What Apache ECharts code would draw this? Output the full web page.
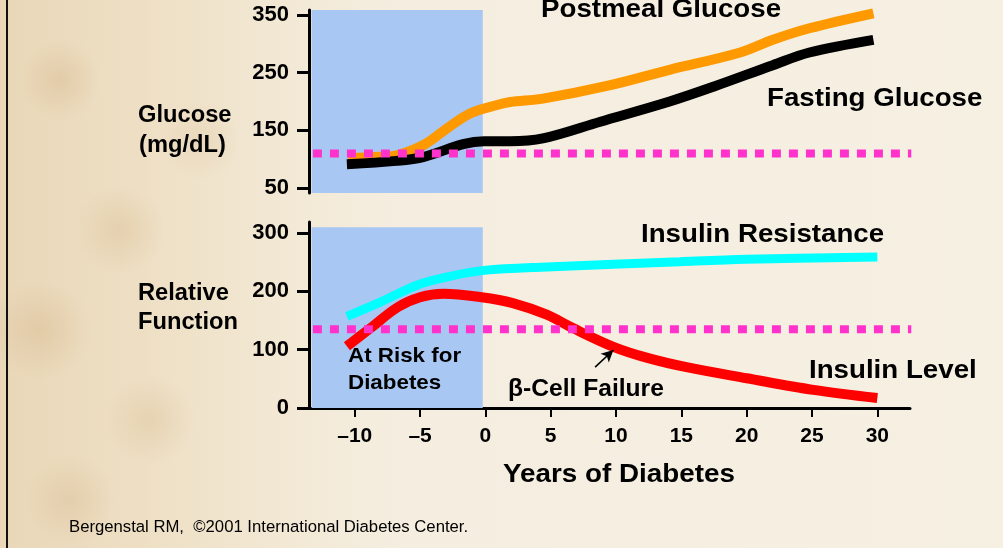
<!DOCTYPE html>
<html>
<head>
<meta charset="utf-8">
<title>Glucose and insulin over the course of diabetes</title>
<script src="https://cdn.jsdelivr.net/npm/echarts@6/dist/echarts.min.js"></script>
<style>
  html, body { margin:0; padding:0; }
  body {
    width:1003px; height:548px; overflow:hidden; position:relative;
    background:
      radial-gradient(circle at 60px 80px, rgba(205,170,120,.30) 0, rgba(205,170,120,0) 40px),
      radial-gradient(circle at 120px 230px, rgba(205,170,120,.26) 0, rgba(205,170,120,0) 45px),
      radial-gradient(circle at 40px 330px, rgba(205,170,120,.30) 0, rgba(205,170,120,0) 50px),
      radial-gradient(circle at 150px 420px, rgba(205,170,120,.24) 0, rgba(205,170,120,0) 45px),
      radial-gradient(circle at 70px 500px, rgba(205,170,120,.26) 0, rgba(205,170,120,0) 45px),
      radial-gradient(circle at 200px 140px, rgba(205,170,120,.18) 0, rgba(205,170,120,0) 40px),
      linear-gradient(to right, #e9d7b8 0%, #eedfc4 14%, #f2e8d4 28%, #f5eee0 40%, #f6f0e2 100%);
  }
  #edge { position:absolute; left:6px; top:0; width:2px; height:548px; background:#111; }
  #chart { position:absolute; left:0; top:0; width:1003px; height:548px; }
</style>
</head>
<body>
<div id="edge"></div>
<div id="chart"></div>
<script>
const xTicks = [-10, -5, 0, 5, 10, 15, 20, 25, 30];
const glucoseTicks = [50, 150, 250, 350];
const functionTicks = [0, 100, 200, 300];

const postmealX = [-10.5, -8, -6.7, -4.7, -2.9, -1.1, 0.9, 1.9, 4.4, 9.3, 14.1, 19.5, 22, 24.8, 29.7];
const postmealY = [102, 104, 107, 125, 154, 180, 194, 199, 205, 227, 255, 285, 307, 327, 353];

const fastingX = [-10.6, -6.8, -4.7, -1.7, -0.1, 1.9, 4.4, 8.8, 14.1, 17.5, 22, 24.8, 29.7];
const fastingY = [91, 97, 104, 126, 131, 131, 136, 165, 200, 226, 263, 285, 307];

const resistX = [-10.6, -8, -5.2, -2.9, -0.1, 4.7, 14.9, 20, 30];
const resistY = [157, 182, 211, 225, 236, 242, 251, 255, 259];

const insulinX = [-10.6, -8.8, -6.7, -5, -3.2, -0.3, 2.1, 4.7, 6.7, 9.8, 12.4, 15.4, 20, 25.1, 30];
const insulinY = [106, 137, 173, 190, 196, 190, 180, 160, 137, 105, 86, 70, 51, 31, 17];

const thresholdX = [-13.2, 32.6];
const glucoseThreshold = [110, 110];
const functionThreshold = [135, 135];

const riskZoneX = [-13.3, -0.2];
const riskZoneFunctionY = [0, 310];

const arrowFrom = [8.4, 70];
const arrowTo = [9.8, 99.5];

const xMin = -13.5, xMax = 32.5;
const glucoseMin = 41.3, glucoseMax = 358.7;
const functionMin = 0, functionMax = 319;

// --- estilo ---
const FONT = '"Liberation Sans", Arial, sans-serif';
const pair = (xs, ys) => xs.map((x, i) => [x, ys[i]]);
const fmtX = v => v < 0 ? '\u2013' + Math.abs(v) : String(v);

const chart = echarts.init(document.getElementById('chart'), null, { renderer: 'canvas' });

const yAxisBase = (idx, min, max, ticks) => ({
  type: 'value', gridIndex: idx, min, max, position: 'left',
  splitLine: { show: false },
  axisLine: { show: true, onZero: false, lineStyle: { color: '#000', width: 3 } },
  axisTick: { show: true, customValues: ticks, length: 12, lineStyle: { color: '#000', width: 3 } },
  axisLabel: { customValues: ticks, margin: 20, color: '#000', fontFamily: FONT, fontWeight: 'bold', fontSize: 22 }
});

const lineSeries = (name, xi, yi, data, color, width, z) => ({
  name, type: 'line', xAxisIndex: xi, yAxisIndex: yi, data,
  smooth: 0.35, showSymbol: false, symbol: 'none', z,
  lineStyle: { color, width, cap: 'butt' }
});

const dotted = (name, xi, yi, data) => ({
  name, type: 'line', xAxisIndex: xi, yAxisIndex: yi, data, clip: false,
  showSymbol: false, symbol: 'none', z: 5,
  lineStyle: { color: '#ff33cc', width: 8, type: [9, 8], cap: 'butt' }
});

// texto solto do slide (ligeiramente esticado na horizontal, como no original)
const txt = (text, x, y, size, sx, opts={}) => ({
  type: 'text', x, y, z: 10, scaleX: sx, scaleY: 1,
  style: Object.assign({
    text, fill: '#000', font: `bold ${size}px ${FONT}`,
    textAlign: 'left', textVerticalAlign: 'middle'
  }, opts)
});

chart.setOption({
  backgroundColor: 'transparent',
  animation: false,
  grid: [
    { left: 309, right: 93, top: 10, height: 183 },
    { left: 309, right: 93, top: 222, height: 186 }
  ],
  xAxis: [
    { type: 'value', gridIndex: 0, min: xMin, max: xMax, show: false },
    {
      type: 'value', gridIndex: 1, min: xMin, max: xMax, position: 'bottom',
      splitLine: { show: false },
      axisLine: { show: true, onZero: false, lineStyle: { color: '#000', width: 3 } },
      axisTick: { show: true, customValues: xTicks, length: 9, lineStyle: { color: '#000', width: 2 } },
      axisLabel: { customValues: xTicks, formatter: fmtX, margin: 18, color: '#000', fontFamily: FONT, fontWeight: 'bold', fontSize: 21 }
    }
  ],
  yAxis: [
    yAxisBase(0, glucoseMin, glucoseMax, glucoseTicks),
    yAxisBase(1, functionMin, functionMax, functionTicks)
  ],
  series: [
    {
      name: 'risk-top', type: 'line', xAxisIndex: 0, yAxisIndex: 0, data: [], z: 1,
      markArea: { silent: true, itemStyle: { color: '#a8c7f3' },
        data: [[{ coord: [riskZoneX[0], glucoseMin] }, { coord: [riskZoneX[1], glucoseMax] }]] }
    },
    {
      name: 'risk-bottom', type: 'line', xAxisIndex: 1, yAxisIndex: 1, data: [], z: 1,
      markArea: { silent: true, itemStyle: { color: '#a8c7f3' },
        data: [[{ coord: [riskZoneX[0], riskZoneFunctionY[0]] }, { coord: [riskZoneX[1], riskZoneFunctionY[1]] }]] }
    },
    lineSeries('Postmeal Glucose', 0, 0, pair(postmealX, postmealY), '#ff9900', 10, 3),
    lineSeries('Fasting Glucose', 0, 0, pair(fastingX, fastingY), '#000000', 10, 3),
    lineSeries('Insulin Resistance', 1, 1, pair(resistX, resistY), '#00ffff', 9, 3),
    Object.assign(lineSeries('Insulin Level', 1, 1, pair(insulinX, insulinY), '#ff0000', 10, 3), {
      markLine: {
        silent: true, symbol: ['none', 'arrow'], symbolSize: [9, 12],
        label: { show: false },
        lineStyle: { color: '#000', width: 1.6, type: 'solid' },
        data: [[{ coord: arrowFrom }, { coord: arrowTo }]]
      }
    }),
    dotted('glucose threshold', 0, 0, pair(thresholdX, glucoseThreshold)),
    dotted('function threshold', 1, 1, pair(thresholdX, functionThreshold))
  ],
  graphic: [
    txt('Postmeal Glucose', 541, 9.5, 26, 1.065),
    txt('Fasting Glucose', 767, 98.5, 26, 1.065),
    txt('Insulin Resistance', 641, 234.5, 26, 1.065),
    txt('Insulin Level', 809, 371, 26, 1.065),
    txt('\u03b2-Cell Failure', 508, 390, 23, 1.07),
    txt('At Risk for', 348, 356, 21, 1.065),
    txt('Diabetes', 348, 383.5, 21, 1.065),
    txt('Glucose', 138, 115.5, 23, 1.03),
    txt('(mg/dL)', 139, 145.5, 23, 1.03),
    txt('Relative', 138, 294, 23, 1.03),
    txt('Function', 138, 323, 23, 1.03),
    txt('Years of Diabetes', 619, 475, 26, 1.07, { textAlign: 'center' }),
    txt('Bergenstal RM,  \u00a92001 International Diabetes Center.', 69, 527, 16.7, 1,
        { font: `16.7px ${FONT}` })
  ]
});
</script>
</body>
</html>
